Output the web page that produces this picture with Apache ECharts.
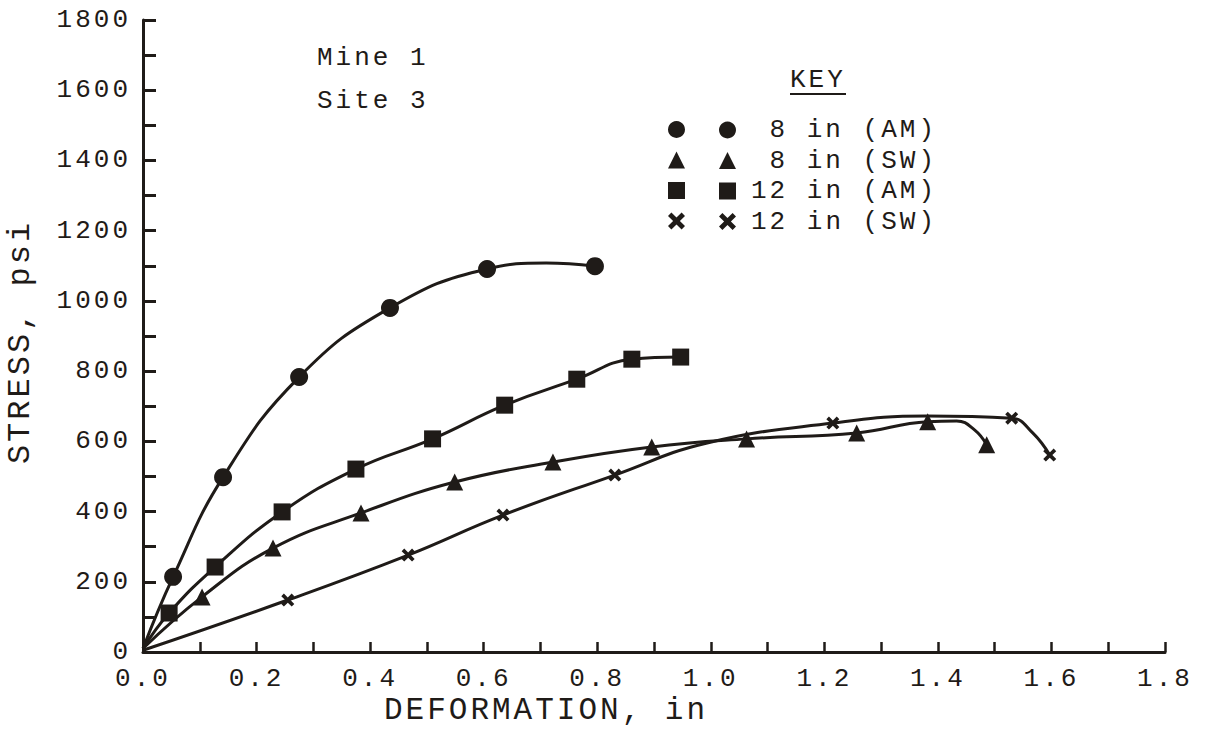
<!DOCTYPE html>
<html>
<head>
<meta charset="utf-8">
<script src="https://cdn.jsdelivr.net/npm/echarts@6/dist/echarts.min.js"></script>
<style>
  html, body { margin: 0; padding: 0; background: #ffffff; }
  #chart { width: 1210px; height: 736px; }
  #chart svg text { letter-spacing: 3px; }
</style>
</head>
<body>
<div id="chart"></div>
<script>
// ---- Data ----
const seriesNames = ['8 in (AM)', '8 in (SW)', '12 in (AM)', '12 in (SW)'];

// Marker points [deformation (in), stress (psi)]
const am8Markers = [[0.053, 214], [0.141, 498], [0.275, 783], [0.435, 980], [0.606, 1091], [0.796, 1099]];
const sw8Markers = [[0.104, 157], [0.229, 296], [0.384, 396], [0.549, 484], [0.722, 541], [0.896, 584], [1.063, 607], [1.257, 624], [1.382, 656], [1.486, 590]];
const am12Markers = [[0.046, 111], [0.127, 242], [0.245, 399], [0.375, 521], [0.510, 607], [0.637, 703], [0.764, 777], [0.861, 834], [0.947, 840]];
const sw12Markers = [[0.255, 148], [0.467, 276], [0.634, 390], [0.831, 504], [1.215, 652], [1.530, 666], [1.597, 561]];

// Hand-drawn curve paths through the markers
const am8Curve = [[0, 10], [0.053, 214], [0.141, 498], [0.275, 783], [0.435, 980], [0.606, 1091], [0.71, 1108], [0.796, 1099]];
const sw8Curve = [[0, 10], [0.104, 157], [0.229, 296], [0.384, 396], [0.549, 484], [0.722, 541], [0.896, 584], [1.063, 607], [1.257, 624], [1.382, 656], [1.433, 658], [1.465, 632], [1.486, 590]];
const am12Curve = [[0, 10], [0.046, 111], [0.127, 242], [0.245, 399], [0.375, 521], [0.510, 607], [0.637, 703], [0.764, 777], [0.861, 834], [0.947, 840]];
const sw12Curve = [[0, 5], [0.255, 148], [0.467, 276], [0.634, 390], [0.831, 504], [0.99, 594], [1.215, 652], [1.38, 672], [1.530, 666], [1.567, 624], [1.597, 561]];

// Tick labels
const xTickLabels = ['0.0', '0.2', '0.4', '0.6', '0.8', '1.0', '1.2', '1.4', '1.6', '1.8'];
const yTickLabels = ['0', '200', '400', '600', '800', '1000', '1200', '1400', '1600', '1800'];

// Text
const xTitle = 'DEFORMATION, in';
const yTitle = 'STRESS, psi';
const noteLines = ['Mine 1', 'Site 3'];
const keyTitle = 'KEY';

// ---- Styling ----
const INK = '#1f1b18';
const FONT = '"Liberation Mono", "DejaVu Sans Mono", monospace';
const xShape = 'path://M2,0 L5,3 L8,0 L10,2 L7,5 L10,8 L8,10 L5,7 L2,10 L0,8 L3,5 L0,2 Z';
const symbols = ['circle', 'triangle', 'rect', xShape];
const symbolSizes = [18, 17, 17, 13];
const markerSets = [am8Markers, sw8Markers, am12Markers, sw12Markers];
const curveSets = [am8Curve, sw8Curve, am12Curve, sw12Curve];

const series = [];
curveSets.forEach((c, i) => {
  series.push({
    name: seriesNames[i], type: 'line', data: c, smooth: 0.45,
    showSymbol: false, symbol: 'none', silent: true,
    lineStyle: { color: INK, width: 3 }, itemStyle: { color: INK }, z: 2
  });
});
markerSets.forEach((m, i) => {
  series.push({
    name: seriesNames[i], type: 'scatter', data: m, symbol: symbols[i],
    symbolSize: symbolSizes[i], itemStyle: { color: INK, opacity: 1 }, z: 3
  });
});

const keyData = seriesNames.map((n, i) => ({ name: n, icon: symbols[i], itemStyle: { color: INK, opacity: 1 } }));

const chart = echarts.init(document.getElementById('chart'), null, { renderer: 'svg' });
chart.setOption({
  backgroundColor: '#ffffff',
  animation: false,
  grid: { left: 143, right: 45, top: 20, bottom: 84, containLabel: false },
  xAxis: {
    type: 'value', min: 0, max: 1.8, interval: 0.1,
    axisLine: { show: true, lineStyle: { color: INK, width: 3 } },
    axisTick: { show: true, inside: true, length: 10, lineStyle: { color: INK, width: 2.5 } },
    splitLine: { show: false },
    axisLabel: {
      color: INK, fontFamily: FONT, fontSize: 26, margin: 17, lineHeight: 20,
      formatter: v => { const k = Math.round(v * 5); return Math.abs(v * 5 - k) < 1e-6 ? xTickLabels[k] : ''; }
    }
  },
  yAxis: {
    type: 'value', min: 0, max: 1800, interval: 100,
    axisLine: { show: true, lineStyle: { color: INK, width: 3 } },
    axisTick: { show: true, inside: true, length: 13, lineStyle: { color: INK, width: 3 } },
    splitLine: { show: false },
    axisLabel: {
      color: INK, fontFamily: FONT, fontSize: 26, margin: 12, lineHeight: 20,
      formatter: v => (v % 200 === 0 ? yTickLabels[v / 200] : '')
    }
  },
  legend: [
    {
      left: 663, top: 116, orient: 'vertical', itemWidth: 17, itemHeight: 17, itemGap: 13.5,
      selectedMode: false, data: keyData, formatter: () => '',
      textStyle: { fontSize: 1, color: INK }
    },
    {
      left: 714, top: 112, orient: 'vertical', itemWidth: 17, itemHeight: 17, itemGap: 4.5,
      selectedMode: false, data: keyData,
      formatter: n => '{a|' + n + '}',
      textStyle: { color: INK, rich: { a: { width: 196, align: 'right', fontSize: 26, fontFamily: FONT, color: INK } } }
    }
  ],
  graphic: [
    { type: 'text', x: 317, y: 58, style: { text: noteLines[0], font: '26px ' + FONT, fill: INK, verticalAlign: 'middle' } },
    { type: 'text', x: 317, y: 101, style: { text: noteLines[1], font: '26px ' + FONT, fill: INK, verticalAlign: 'middle' } },
    { type: 'text', x: 790, y: 80, style: { text: keyTitle, font: '26px ' + FONT, fill: INK, verticalAlign: 'middle' } },
    { type: 'line', shape: { x1: 790, y1: 94, x2: 846, y2: 94 }, style: { stroke: INK, lineWidth: 2 } },
    { type: 'text', x: 384, y: 710, style: { text: xTitle, font: '31px ' + FONT, fill: INK, verticalAlign: 'middle' } },
    { type: 'text', x: 20, y: 342, rotation: Math.PI / 2, style: { text: yTitle, font: '32px ' + FONT, fill: INK, align: 'center', verticalAlign: 'middle' } }
  ],
  series: series
});
</script>
</body>
</html>
